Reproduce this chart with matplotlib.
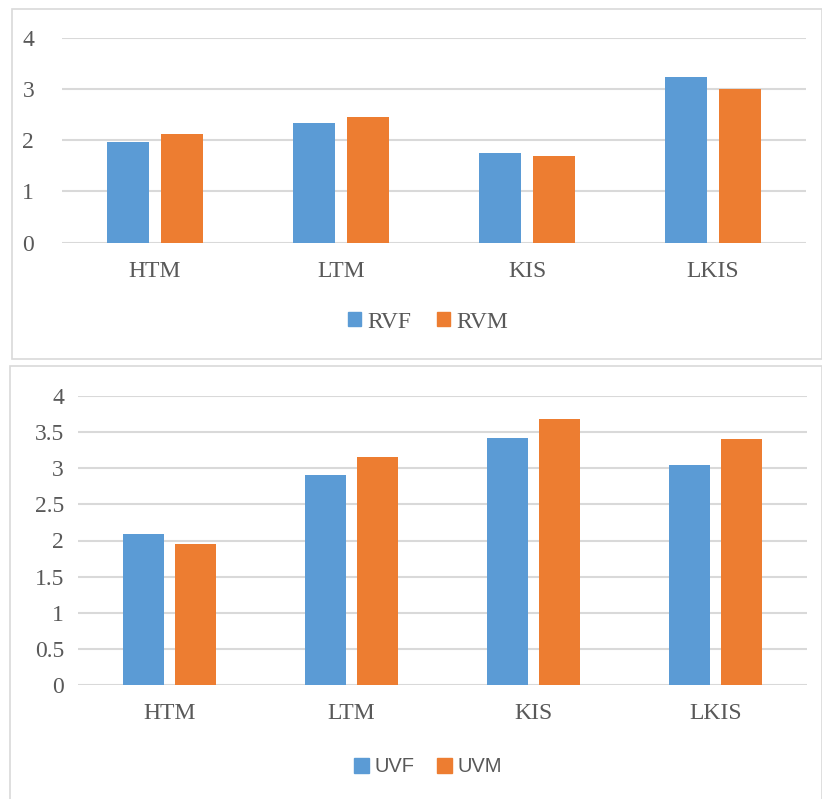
import matplotlib.pyplot as plt
from matplotlib.patches import Rectangle, Patch
from matplotlib.font_manager import FontProperties
import numpy as np

categories = ["HTM", "LTM", "KIS", "LKIS"]
rvf = [1.96, 2.34, 1.76, 3.24]
rvm = [2.12, 2.46, 1.70, 3.00]
uvf = [2.09, 2.91, 3.41, 3.04]
uvm = [1.95, 3.15, 3.68, 3.40]

BLUE = "#5B9BD5"
ORANGE = "#ED7D31"
GRID = "#D9D9D9"
TXT = "#595959"

W, H = 822, 799
fig = plt.figure(figsize=(W / 100, H / 100), dpi=100)


def px_axes(x0, y0, x1, y1):
    # pixel box (top-left origin) -> figure axes
    return fig.add_axes([x0 / W, (H - y1) / H, (x1 - x0) / W, (y1 - y0) / H])


def panel_border(x0, y0, x1, y1):
    fig.patches.append(Rectangle((x0 / W, (H - y1) / H), (x1 - x0) / W, (y1 - y0) / H,
                                 transform=fig.transFigure, fill=False,
                                 edgecolor=GRID, linewidth=1.2))


def draw_panel(ax, s1, s2, ticks, ticklabels, ypad, width, off):
    x = np.arange(len(categories))
    ax.bar(x - off, s1, width, color=BLUE, zorder=3)
    ax.bar(x + off, s2, width, color=ORANGE, zorder=3)
    ax.set_xlim(-0.5, len(categories) - 0.5)
    ax.set_ylim(0, 4)
    ax.set_yticks(ticks)
    ax.set_yticklabels(ticklabels, fontfamily="Liberation Serif", fontsize=17)
    ax.set_xticks(x)
    ax.set_xticklabels(categories, fontfamily="Liberation Serif", fontsize=17)
    for s in ax.spines.values():
        s.set_visible(False)
    ax.grid(axis="y", color=GRID, linewidth=1.5, zorder=0)
    ax.tick_params(axis="both", length=0, colors=TXT)
    ax.tick_params(axis="y", pad=ypad)
    ax.tick_params(axis="x", pad=13)
    ax.set_axisbelow(True)


# top panel
panel_border(11.5, 8.5, 821.5, 358.5)
ax1 = px_axes(62, 37.7, 806, 242.7)
draw_panel(ax1, rvf, rvm, [0, 1, 2, 3, 4], ["0", "1", "2", "3", "4"], 20, 0.226, 0.145)
fig.legend(handles=[Patch(color=BLUE, label="RVF"), Patch(color=ORANGE, label="RVM")],
           loc="center", bbox_to_anchor=(428 / W, (H - 322) / H), ncol=2, frameon=False,
           handlelength=0.55, handleheight=0.55, handletextpad=0.25, columnspacing=1.1,
           prop=FontProperties(family="Liberation Serif", size=17), labelcolor=TXT)

# bottom panel
panel_border(10, 366, 822, 800)
ax2 = px_axes(78, 395.7, 807, 685.3)
yt = [0, 0.5, 1, 1.5, 2, 2.5, 3, 3.5, 4]
draw_panel(ax2, uvf, uvm, yt, ["0", "0.5", "1", "1.5", "2", "2.5", "3", "3.5", "4"], 10, 0.225, 0.143)
fig.legend(handles=[Patch(color=BLUE, label="UVF"), Patch(color=ORANGE, label="UVM")],
           loc="center", bbox_to_anchor=(428 / W, (H - 767) / H), ncol=2, frameon=False,
           handlelength=0.75, handleheight=0.75, handletextpad=0.3, columnspacing=1.1,
           prop=FontProperties(family="Liberation Sans", size=14.5), labelcolor=TXT)

fig.savefig("out.png", dpi=100)
